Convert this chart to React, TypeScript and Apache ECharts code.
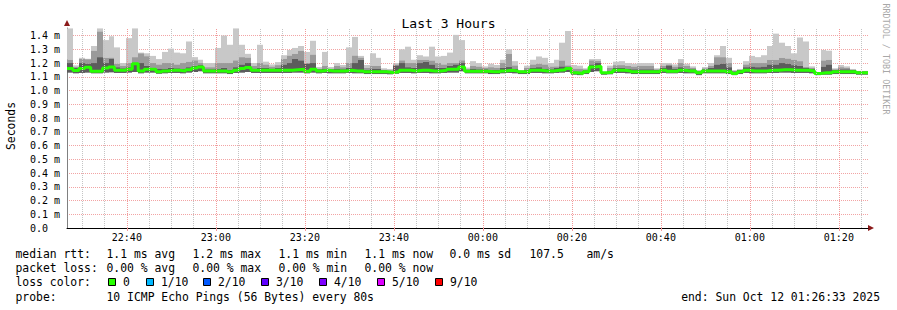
import React, { useEffect, useRef } from 'react';
import * as echarts from 'echarts';

// time axis: seconds since 22:00:00
const START = '22:26:33';
const STEP_SEC = 80;

// smoke: top (max), mid-gray top, dark-gray top, median, bottom (min) — in ms
const hi = [
  1.452, 1.183, 1.238, 1.231, 1.324, 1.452, 1.367, 1.395, 1.314, 1.200,
  1.381, 1.452, 1.276, 1.271, 1.252, 1.229, 1.281, 1.305, 1.276, 1.271,
  1.357, 1.243, 1.224, 1.200, 1.200, 1.310, 1.400, 1.333, 1.452, 1.333,
  1.267, 1.200, 1.333, 1.210, 1.190, 1.207, 1.257, 1.295, 1.310, 1.324,
  1.281, 1.362, 1.171, 1.281, 1.171, 1.200, 1.186, 1.314, 1.390, 1.252,
  1.186, 1.271, 1.238, 1.162, 1.157, 1.200, 1.300, 1.319, 1.224, 1.257,
  1.248, 1.319, 1.248, 1.252, 1.276, 1.405, 1.367, 1.167, 1.214, 1.200,
  1.176, 1.195, 1.186, 1.224, 1.300, 1.214, 1.148, 1.181, 1.224, 1.248,
  1.238, 1.200, 1.224, 1.348, 1.433, 1.186, 1.181, 1.162, 1.229, 1.229,
  1.133, 1.181, 1.210, 1.214, 1.200, 1.195, 1.200, 1.200, 1.200, 1.162,
  1.200, 1.200, 1.190, 1.229, 1.195, 1.176, 1.148, 1.171, 1.200, 1.257,
  1.324, 1.238, 1.148, 1.157, 1.214, 1.252, 1.243, 1.257, 1.324, 1.414,
  1.348, 1.324, 1.271, 1.386, 1.357, 1.176, 1.129, 1.295, 1.290, 1.162,
  1.186, 1.176, 1.157, 1.143, 1.143,
];
const mid = [
  1.224, 1.172, 1.230, 1.228, 1.290, 1.430, 1.238, 1.240, 1.195, 1.180,
  1.200, 1.243, 1.271, 1.250, 1.200, 1.190, 1.200, 1.200, 1.190, 1.200,
  1.210, 1.220, 1.200, 1.170, 1.170, 1.200, 1.200, 1.200, 1.220, 1.243,
  1.240, 1.180, 1.200, 1.190, 1.175, 1.185, 1.231, 1.255, 1.267, 1.290,
  1.200, 1.262, 1.160, 1.180, 1.160, 1.180, 1.170, 1.200, 1.255, 1.240,
  1.165, 1.180, 1.180, 1.152, 1.148, 1.190, 1.220, 1.200, 1.200, 1.224,
  1.224, 1.219, 1.200, 1.190, 1.200, 1.200, 1.220, 1.158, 1.180, 1.175,
  1.165, 1.170, 1.165, 1.200, 1.267, 1.183, 1.145, 1.165, 1.190, 1.195,
  1.190, 1.175, 1.176, 1.219, 1.183, 1.160, 1.160, 1.155, 1.220, 1.215,
  1.132, 1.165, 1.185, 1.185, 1.180, 1.175, 1.180, 1.180, 1.180, 1.155,
  1.180, 1.190, 1.175, 1.200, 1.180, 1.165, 1.145, 1.162, 1.180, 1.243,
  1.243, 1.200, 1.145, 1.150, 1.190, 1.200, 1.200, 1.200, 1.224, 1.224,
  1.238, 1.233, 1.224, 1.214, 1.171, 1.165, 1.129, 1.219, 1.224, 1.155,
  1.170, 1.165, 1.152, 1.140, 1.140,
];
const dk = [
  1.200, 1.165, 1.200, 1.195, 1.200, 1.243, 1.200, 1.230, 1.170, 1.162,
  1.170, 1.200, 1.200, 1.180, 1.165, 1.160, 1.160, 1.165, 1.162, 1.160,
  1.170, 1.180, 1.185, 1.155, 1.155, 1.160, 1.165, 1.150, 1.170, 1.190,
  1.200, 1.160, 1.165, 1.165, 1.160, 1.165, 1.190, 1.200, 1.230, 1.220,
  1.195, 1.200, 1.155, 1.160, 1.155, 1.160, 1.155, 1.165, 1.200, 1.224,
  1.150, 1.160, 1.160, 1.148, 1.140, 1.183, 1.200, 1.170, 1.165, 1.200,
  1.210, 1.190, 1.165, 1.165, 1.180, 1.190, 1.200, 1.150, 1.160, 1.155,
  1.155, 1.150, 1.150, 1.165, 1.171, 1.160, 1.142, 1.150, 1.165, 1.170,
  1.160, 1.155, 1.165, 1.176, 1.175, 1.140, 1.138, 1.148, 1.190, 1.200,
  1.130, 1.145, 1.165, 1.165, 1.160, 1.155, 1.155, 1.155, 1.155, 1.150,
  1.165, 1.183, 1.160, 1.170, 1.160, 1.155, 1.140, 1.155, 1.165, 1.190,
  1.195, 1.170, 1.140, 1.150, 1.170, 1.175, 1.170, 1.175, 1.190, 1.190,
  1.200, 1.195, 1.185, 1.180, 1.165, 1.160, 1.128, 1.175, 1.190, 1.150,
  1.155, 1.155, 1.150, 1.140, 1.140,
];
const med = [
  1.160, 1.145, 1.160, 1.170, 1.140, 1.140, 1.164, 1.171, 1.148, 1.148,
  1.155, 1.195, 1.143, 1.155, 1.155, 1.136, 1.143, 1.148, 1.148, 1.143,
  1.152, 1.164, 1.171, 1.143, 1.143, 1.143, 1.143, 1.136, 1.148, 1.160,
  1.167, 1.148, 1.148, 1.148, 1.148, 1.148, 1.148, 1.148, 1.152, 1.155,
  1.140, 1.155, 1.143, 1.148, 1.143, 1.143, 1.143, 1.148, 1.143, 1.143,
  1.136, 1.136, 1.136, 1.136, 1.131, 1.136, 1.148, 1.148, 1.143, 1.148,
  1.148, 1.143, 1.143, 1.148, 1.155, 1.155, 1.172, 1.140, 1.140, 1.140,
  1.140, 1.136, 1.136, 1.143, 1.148, 1.143, 1.136, 1.136, 1.148, 1.148,
  1.143, 1.143, 1.148, 1.152, 1.160, 1.129, 1.124, 1.136, 1.171, 1.176,
  1.129, 1.133, 1.148, 1.148, 1.143, 1.136, 1.136, 1.136, 1.136, 1.136,
  1.148, 1.140, 1.140, 1.148, 1.143, 1.143, 1.129, 1.143, 1.143, 1.143,
  1.143, 1.136, 1.124, 1.136, 1.148, 1.143, 1.143, 1.143, 1.148, 1.148,
  1.152, 1.152, 1.148, 1.148, 1.148, 1.143, 1.124, 1.129, 1.129, 1.136,
  1.136, 1.136, 1.136, 1.129, 1.129,
];
const lo = [
  1.130, 1.125, 1.128, 1.130, 1.125, 1.125, 1.130, 1.132, 1.128, 1.128,
  1.130, 1.135, 1.125, 1.130, 1.130, 1.122, 1.125, 1.128, 1.128, 1.125,
  1.130, 1.135, 1.140, 1.125, 1.125, 1.125, 1.125, 1.120, 1.128, 1.130,
  1.135, 1.128, 1.128, 1.128, 1.128, 1.128, 1.128, 1.128, 1.130, 1.130,
  1.125, 1.130, 1.125, 1.128, 1.125, 1.125, 1.125, 1.128, 1.125, 1.125,
  1.120, 1.120, 1.120, 1.120, 1.118, 1.122, 1.128, 1.128, 1.125, 1.128,
  1.128, 1.125, 1.125, 1.128, 1.130, 1.130, 1.140, 1.125, 1.125, 1.125,
  1.125, 1.120, 1.120, 1.125, 1.128, 1.125, 1.120, 1.120, 1.128, 1.128,
  1.125, 1.125, 1.128, 1.130, 1.135, 1.115, 1.112, 1.120, 1.135, 1.140,
  1.115, 1.118, 1.128, 1.128, 1.125, 1.120, 1.120, 1.120, 1.120, 1.120,
  1.128, 1.125, 1.125, 1.128, 1.125, 1.125, 1.112, 1.125, 1.125, 1.125,
  1.125, 1.120, 1.112, 1.120, 1.128, 1.125, 1.125, 1.125, 1.128, 1.128,
  1.130, 1.130, 1.128, 1.128, 1.128, 1.125, 1.112, 1.115, 1.115, 1.120,
  1.120, 1.120, 1.120, 1.115, 1.115,
];

const xTickLabels = ['22:40', '23:00', '23:20', '23:40', '00:00', '00:20', '00:40', '01:00', '01:20'];
const Y_MAX = 1.455;

const rttStats = [
  ['median rtt:', 16], ['1.1 ms avg', 107], ['1.2 ms max', 193], ['1.1 ms min', 279],
  ['1.1 ms now', 365], ['0.0 ms sd', 450], ['107.5', 530], ['am/s', 587],
] as [string, number][];
const lossStats = [
  ['packet loss:', 16], ['0.00 % avg', 107], ['0.00 % max', 193], ['0.00 % min', 279], ['0.00 % now', 365],
] as [string, number][];
const lossColors = [
  ['0', '#26ff00'], ['1/10', '#00b8ff'], ['2/10', '#0059ff'], ['3/10', '#5e00ff'],
  ['4/10', '#7e00ff'], ['5/10', '#dd00ff'], ['9/10', '#ff0000'],
] as [string, string][];
const lossBoxX = [108, 146, 203, 261, 319, 377, 435];
const probeText = '10 ICMP Echo Pings (56 Bytes) every 80s';
const endText = 'end: Sun Oct 12 01:26:33 2025';

const MONO = '"DejaVu Sans Mono", monospace';

function toSec(hhmm: string): number {
  const p = hhmm.split(':').map(Number);
  const h = ((p[0] - 22) + 24) % 24;
  return h * 3600 + p[1] * 60 + (p[2] || 0);
}
function fmtSec(s: number): string {
  const tot = Math.round(s / 60);
  const h = (22 + Math.floor(tot / 60)) % 24;
  const m = tot % 60;
  return String(h).padStart(2, '0') + ':' + String(m).padStart(2, '0');
}

export default function App() {
  const ref = useRef<HTMLDivElement>(null);
  useEffect(() => {
    document.body.style.margin = '0';
    const chart = echarts.init(ref.current!, undefined, { renderer: 'svg' });
    const t0 = toSec(START);
    const n = hi.length;
    const tEnd = t0 + n * STEP_SEC;
    const smoke = hi.map((h, i) => [t0 + i * STEP_SEC, t0 + (i + 1) * STEP_SEC, lo[i], dk[i], mid[i], h]);
    const medLine = med.map((m, i) => [t0 + i * STEP_SEC, m]);
    medLine.push([tEnd, med[n - 1]]);

    const majorVals = xTickLabels.map(toSec);
    const gridLines: any[] = [];
    const firstMinor = Math.ceil(t0 / 300) * 300;
    for (let s = firstMinor; s < tEnd; s += 300) {
      if (s % 1200 === 0) continue;
      gridLines.push({ xAxis: s, lineStyle: { color: '#c4c4c4', type: [1, 1], width: 1 } });
    }
    for (const s of majorVals) {
      gridLines.push({ xAxis: s, lineStyle: { color: '#f29a9a', type: [1, 1], width: 1 } });
    }

    const LIGHT = '#c8c8c8', MIDC = '#9a9a9a', DARK = '#5c5c5c';

    const graphics: any[] = [];
    const txt = (text: string, x: number, y: number, extra: any = {}) => ({
      type: 'text', x, y, silent: true,
      style: { text, font: `11.4px ${MONO}`, fill: '#000', align: 'left', verticalAlign: 'middle', ...extra },
    });
    rttStats.forEach(([t, x]) => graphics.push(txt(t, x - 0.5, 254)));
    lossStats.forEach(([t, x]) => graphics.push(txt(t, x - 0.5, 268)));
    graphics.push(txt('loss color:', 15.5, 282));
    lossColors.forEach(([label, color], i) => {
      const bx = lossBoxX[i];
      graphics.push({ type: 'rect', silent: true, shape: { x: bx + 0.5, y: 278.5, width: 7, height: 7 }, style: { fill: color, stroke: '#000', lineWidth: 1 } });
      graphics.push(txt(label, bx + 15, 282));
    });
    graphics.push(txt('probe:', 15.5, 297));
    graphics.push(txt(probeText, 106.5, 297));
    graphics.push(txt(endText, 880, 297, { align: 'right' }));
    graphics.push({ type: 'text', x: 11, y: 126, rotation: Math.PI / 2, silent: true,
      style: { text: 'Seconds', font: `11.4px ${MONO}`, fill: '#000', align: 'center', verticalAlign: 'middle' } });
    graphics.push({ type: 'text', x: 886, y: 59, rotation: -Math.PI / 2, silent: true,
      style: { text: 'RRDTOOL / TOBI OETIKER', font: `8.4px ${MONO}`, fill: '#a8a8a8', align: 'center', verticalAlign: 'middle' } });
    // axis arrow heads
    graphics.push({ type: 'polygon', silent: true, shape: { points: [[64, 26], [70, 26], [67, 20]] }, style: { fill: '#8b1a1a' } });
    graphics.push({ type: 'polygon', silent: true, shape: { points: [[868, 225], [868, 231], [874, 228]] }, style: { fill: '#8b1a1a' } });

    chart.setOption({
      animation: false,
      backgroundColor: '#fff',
      title: {
        text: 'Last 3 Hours', left: 'center', top: 12,
        textStyle: { fontFamily: MONO, fontSize: 13, fontWeight: 'normal', color: '#000' },
      },
      grid: { left: 67, right: 29, top: 28, bottom: 82 },
      xAxis: {
        type: 'value', min: t0, max: tEnd,
        axisLine: { show: true, lineStyle: { color: '#000', width: 1 } },
        axisTick: { show: true, customValues: majorVals, length: 3, lineStyle: { color: '#f29a9a' } },
        axisLabel: {
          customValues: majorVals, formatter: (v: number) => fmtSec(v),
          fontFamily: MONO, fontSize: 10, color: '#000', margin: 4,
        },
        splitLine: { show: false },
      },
      yAxis: {
        type: 'value', min: 0, max: Y_MAX, interval: 0.1,
        axisLine: { show: true, lineStyle: { color: '#808080', width: 1 } },
        axisTick: { show: false },
        axisLabel: {
          showMaxLabel: false, align: 'left', margin: 37,
          formatter: (v: number) => (v === 0 ? '0.0' : v.toFixed(1) + ' m'),
          fontFamily: MONO, fontSize: 10, color: '#000',
        },
        splitLine: { show: true, showMinLine: false, showMaxLine: false, lineStyle: { color: '#f2a4a4', type: [1, 1] } },
      },
      graphic: graphics,
      series: [
        {
          type: 'line', z: 1, data: [[t0, 0]], showSymbol: false, symbol: 'none',
          lineStyle: { opacity: 0 }, silent: true,
          markLine: { silent: true, symbol: ['none', 'none'], label: { show: false }, animation: false, data: gridLines },
        },
        {
          type: 'custom', z: 2, silent: true,
          encode: { x: [0, 1], y: [2, 3, 4, 5] },
          data: smoke,
          renderItem: (_p: any, api: any) => {
            const a = api.value(0), b = api.value(1);
            const rect = (v0: number, v1: number, fill: string) => {
              const p0 = api.coord([a, v1]);
              const p1 = api.coord([b, v0]);
              const x0 = Math.round(p0[0]), x1 = Math.round(p1[0]);
              return { type: 'rect', shape: { x: x0, y: p0[1], width: x1 - x0, height: p1[1] - p0[1] }, style: { fill } };
            };
            return {
              type: 'group',
              children: [
                rect(api.value(4), api.value(5), LIGHT),
                rect(api.value(3), api.value(4), MIDC),
                rect(api.value(2), api.value(3), DARK),
              ],
            };
          },
        },
        {
          type: 'line', z: 3, step: 'end', data: medLine, showSymbol: false, symbol: 'none', silent: true,
          lineStyle: { color: '#26ff00', width: 3 },
        },
      ],
    });
    return () => chart.dispose();
  }, []);
  return <div ref={ref} style={{ width: 897, height: 310 }} />;
}
